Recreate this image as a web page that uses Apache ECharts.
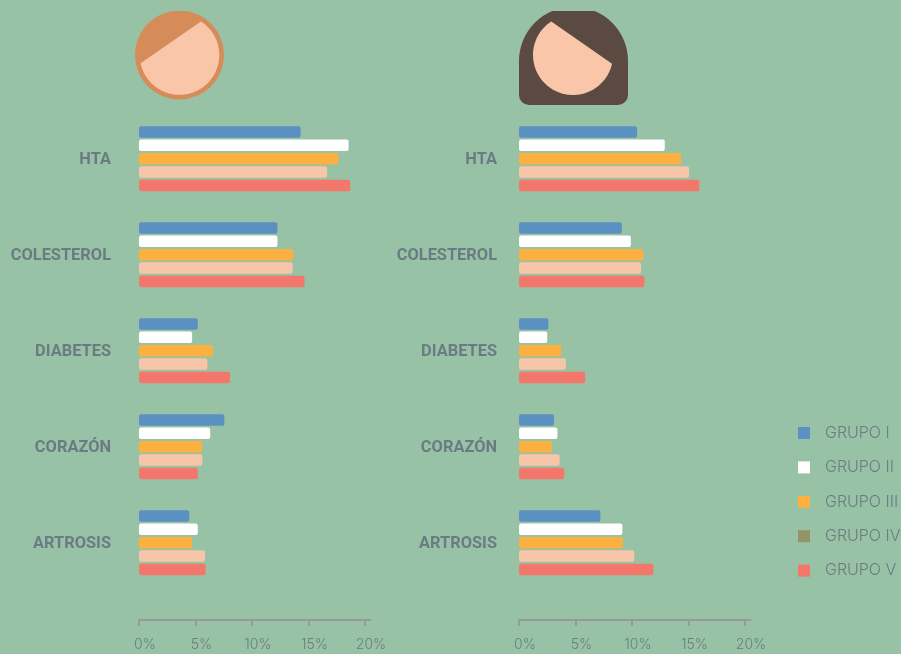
<!DOCTYPE html>
<html><head><meta charset="utf-8">
<style>html,body{margin:0;padding:0;background:#98c2a5}#c{width:901px;height:654px}</style>
<script src="https://cdn.jsdelivr.net/npm/echarts@6/dist/echarts.min.js"></script>
</head><body><div id="c"></div>
<script>
const categories = ['HTA','COLESTEROL','DIABETES','CORAZÓN','ARTROSIS'];
const groups = ['GRUPO I','GRUPO II','GRUPO III','GRUPO IV','GRUPO V'];
const barColors = ['#5b90c2','#ffffff','#fbb040','#f7c5a8','#f4776b'];
const legendColors = ['#5b90c2','#ffffff','#fbb040','#959465','#f4776b'];
const ticks = [0,5,10,15,20];
// values by group, each in category order
const menI   = [14.3,12.25,5.2,7.55,4.45];
const menII  = [18.55,12.25,4.7,6.3,5.2];
const menIII = [17.65,13.65,6.55,5.6,4.7];
const menIV  = [16.65,13.6,6.05,5.6,5.85];
const menV   = [18.7,14.65,8.05,5.2,5.9];
const womenI   = [10.45,9.1,2.6,3.1,7.2];
const womenII  = [12.9,9.9,2.5,3.4,9.15];
const womenIII = [14.35,11.0,3.75,2.9,9.2];
const womenIV  = [15.05,10.8,4.15,3.6,10.2];
const womenV   = [15.95,11.1,5.85,4.0,11.9];
const men = [menI,menII,menIII,menIV,menV];
const women = [womenI,womenII,womenIII,womenIV,womenV];

const BG='#98c2a5', TXT='#6b7b84', AX='#979a99', SKIN='#f9c6aa';
const grids=[{left:139,top:110.7,width:231.65,height:480},{left:519,top:110.7,width:231.65,height:480}];
const xAxis=grids.map((g,i)=>({gridIndex:i,type:'value',min:0,max:20.5,position:'bottom',offset:29.3,
  splitLine:{show:false},
  axisLine:{show:true,onZero:false,lineStyle:{color:AX,width:2}},
  axisTick:{show:true,length:6,lineStyle:{color:AX,width:2},customValues:ticks},
  axisLabel:{show:true,customValues:ticks,formatter:v=>v+'%',color:TXT,fontFamily:'Inter',fontWeight:300,fontSize:14,margin:18,padding:[0,0,0,12],hideOverlap:false}}));
const yAxis=grids.map((g,i)=>({gridIndex:i,type:'category',inverse:true,data:categories,
  axisLine:{show:false},axisTick:{show:false},
  axisLabel:{color:TXT,fontFamily:'Roboto',fontWeight:'bold',fontSize:16.4,margin:i?22:28,align:'right',verticalAlign:'top',lineHeight:3}}));
const mk=(arr,gi)=>arr.map((d,i)=>({type:'bar',name:groups[i],xAxisIndex:gi,yAxisIndex:gi,data:d,barWidth:11.5,barGap:'16%',
  itemStyle:{color:barColors[i],borderRadius:2},silent:true}));
function segment(cx,cy,r,x1,y1,x2,y2){ // circle part, clockwise from point 1 to point 2
  let a1=Math.atan2(y1-cy,x1-cx),a2=Math.atan2(y2-cy,x2-cx);if(a2<a1)a2+=Math.PI*2;
  const p=[];for(let k=0;k<=90;k++){const a=a1+(a2-a1)*k/90;p.push([cx+r*Math.cos(a),cy+r*Math.sin(a)]);}
  return p;
}
const graphic=[
 {type:'circle',shape:{cx:179.5,cy:55,r:44.5},style:{fill:'#d68c59'},z:1},
 {type:'polygon',shape:{points:segment(179.5,55,39.8,201,21.3,140.7,63.3)},style:{fill:SKIN},z:2},
 {type:'rect',shape:{x:519,y:7,width:109,height:98,r:[54,54,10,10]},style:{fill:'#5a4a42'},z:1},
 {type:'polygon',shape:{points:segment(573,55,40,612.7,64,551,21)},style:{fill:SKIN},z:2},
 {type:'rect',shape:{x:100,y:0,width:600,height:11},style:{fill:BG},z:3}
];
const chart=echarts.init(document.getElementById('c'),null,{renderer:'canvas'});
chart.setOption({
  backgroundColor:BG,animation:false,grid:grids,xAxis,yAxis,graphic,
  legend:{orient:'vertical',left:793,top:420,itemWidth:12,itemHeight:12,itemGap:18.4,selectedMode:false,icon:'rect',
    itemStyle:{borderRadius:1},
    data:groups.map((n,i)=>({name:n,itemStyle:{color:legendColors[i]}})),
    textStyle:{color:TXT,fontFamily:'Inter',fontWeight:300,fontSize:16,padding:[0,0,0,10]}},
  series:[...mk(men,0),...mk(women,1)]
});
</script></body></html>
